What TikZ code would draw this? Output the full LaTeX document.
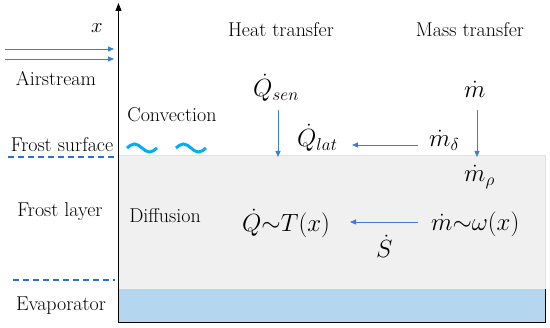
\documentclass[tikz,border=0pt]{standalone}
\usetikzlibrary{arrows.meta}
\definecolor{arrblue}{HTML}{3A7FD5}
\definecolor{dashblue}{HTML}{2A72D2}
\definecolor{tildecyan}{HTML}{00B0F0}
\definecolor{evapblue}{HTML}{B4D6EE}
\definecolor{frostgrey}{HTML}{F0F0F0}
\begin{document}
\begin{tikzpicture}[x=1pt,y=-1pt,
  lbl/.style={font=\fontsize{20}{22}\selectfont, inner sep=0pt, anchor=base},
  mth/.style={font=\fontsize{24}{26}\selectfont, inner sep=0pt, anchor=base west},
  flow/.style={arrblue, line width=0.8pt, -{Triangle[width=5pt,length=6pt]}},
  tilde/.style={tildecyan, line width=3pt},
  sep/.style={dashblue, line width=1.2pt, dash pattern=on 6pt off 4pt}]
\useasboundingbox (0,0) rectangle (550,328);
% regions
\fill[frostgrey] (119,155) rectangle (545,289);
\draw[gray!22, line width=0.6pt] (119,155) -- (545,155) -- (545,289);
\fill[evapblue] (119,289) rectangle (545,323);
\draw[black, line width=1pt] (119,323) -- (545,323) -- (545,289);
% axis
\draw[line width=1pt, -{Triangle[width=6pt,length=8pt]}] (118.5,323) -- (118.5,3);
\node[lbl] (xlab) at (97,33) {$x$};
% airstream
\coordinate (a1s) at (5,49); \coordinate (a1e) at (114,49);
\coordinate (a2s) at (5,59); \coordinate (a2e) at (114,59);
\draw[flow] (a1s) -- (a1e);
\draw[flow] (a2s) -- (a2e);
\node[lbl] (air) at (56,86) {Airstream};
\node[lbl] (conv) at (172,122) {Convection};
\node[lbl] (fsurf) at (62,152) {Frost surface};
\node[lbl] (flayer) at (60,217) {Frost layer};
\node[lbl] (diff) at (165,223) {Diffusion};
\node[lbl] (evap) at (61,311) {Evaporator};
\coordinate (d1s) at (8,157); \coordinate (d1e) at (117,157);
\coordinate (d2s) at (13,280); \coordinate (d2e) at (115,280);
\draw[sep] (d1s) -- (d1e);
\draw[sep] (d2s) -- (d2e);
% tildes
\draw[tilde] (127,148) sin (134.5,144) cos (142,148) sin (149.5,152) cos (157,148);
\draw[tilde] (176,148) sin (183.5,144) cos (191,148) sin (198.5,152) cos (206,148);
% headings
\node[lbl] (heat) at (281,37) {Heat transfer};
\node[lbl] (mass) at (470,37) {Mass transfer};
% math
\node[mth] (qsen) at (253,97) {$\dot{Q}_{sen}$};
\node[mth] (qlat) at (297,147) {$\dot{Q}_{lat}$};
\node[mth] (mdel) at (429,147) {$\dot{m}_{\delta}$};
\node[mth] (m) at (464,98) {$\dot{m}$};
\node[mth] (mrho) at (464,182) {$\dot{m}_{\rho}$};
\node[mth] (qt) at (242,232) {$\dot{Q}{\sim}T(x)$};
\node[mth] (mw) at (431,231) {$\dot{m}{\sim}\omega(x)$};
\node[mth] (sdot) at (376,258) {$\dot{S}$};
% connectors
\coordinate (qsenstart) at (278,110);
\coordinate (qsenend) at (278,157);
\draw[flow] (qsenstart) -- (qsenend);
\coordinate (mstart) at (477,110);
\coordinate (mend) at (477,157);
\draw[flow] (mstart) -- (mend);
\coordinate (mdels) at (418,145);
\coordinate (qlate) at (352,145);
\draw[flow] (mdels) -- (qlate);
\coordinate (mws) at (418,222);
\coordinate (qte) at (350,222);
\draw[flow] (mws) -- (qte);
\end{tikzpicture}
\end{document}
